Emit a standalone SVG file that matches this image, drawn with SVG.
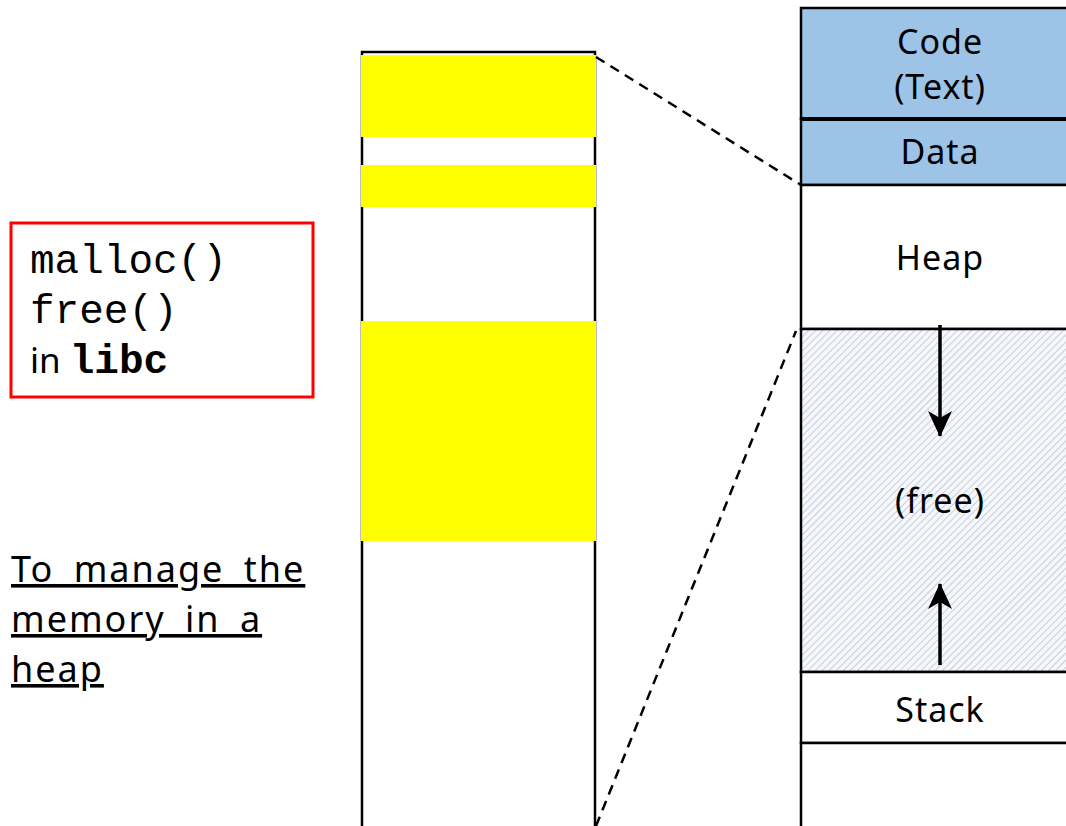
<svg xmlns="http://www.w3.org/2000/svg" width="1066" height="826" viewBox="0 0 1066 826">
  <style>
    .sans { font-family: "Noto Sans", "Open Sans", "DejaVu Sans", sans-serif; fill: #000; }
    .label { font-size: 34px; text-anchor: middle; letter-spacing: 1px; }
    .mono { font-family: "Liberation Mono", "Courier New", monospace; font-size: 41px; fill: #000; }
    .box { stroke: #000; stroke-width: 2.5; }
    .dash { stroke: #000; stroke-width: 2.5; stroke-dasharray: 10 7; fill: none; }
    .arrow { stroke: #000; stroke-width: 3.5; fill: none; }
  </style>
  <defs>
    <pattern id="hatch" width="5" height="5" patternUnits="userSpaceOnUse" patternTransform="rotate(45)">
      <rect width="5" height="5" fill="#f6f7fa"/>
      <line x1="0" y1="0" x2="0" y2="5" stroke="#c6cfdb" stroke-width="2"/>
    </pattern>
    <marker id="head" viewBox="0 0 26 26" refX="25" refY="13" markerWidth="26" markerHeight="26" markerUnits="userSpaceOnUse" orient="auto">
      <path d="M0,1 L26,13 L0,25 L7,13 Z" fill="#000"/>
    </marker>
  </defs>

  <!-- library note -->
  <g id="libc-note">
    <rect x="11" y="223" width="302" height="174" fill="#fff" stroke="#ff0000" stroke-width="3"/>
    <text class="mono" x="30" y="273">malloc()</text>
    <text class="mono" x="30" y="323">free()</text>
    <text x="30" y="373"><tspan class="sans" font-size="35px">in </tspan><tspan class="mono" font-weight="bold">libc</tspan></text>
  </g>

  <!-- purpose caption -->
  <g id="caption" class="sans" font-size="36px" text-decoration="underline" letter-spacing="2" word-spacing="8">
    <text x="11" y="582">To manage the</text>
    <text x="11" y="632">memory in a</text>
    <text x="11" y="682">heap</text>
  </g>

  <!-- heap detail column -->
  <g id="heap-detail">
    <rect x="362" y="52" width="233" height="800" fill="#fff" class="box"/>
    <rect x="361" y="55" width="235" height="82" fill="#ffff00"/>
    <rect x="361" y="165" width="235" height="42" fill="#ffff00"/>
    <rect x="361" y="321" width="235" height="220" fill="#ffff00"/>
  </g>

  <!-- process address space -->
  <g id="code">
    <rect x="801" y="8" width="280" height="111" fill="#9dc3e6" class="box"/>
    <text class="sans label" x="940" y="54">Code</text>
    <text class="sans label" x="940" y="99">(Text)</text>
  </g>
  <g id="data">
    <rect x="801" y="119" width="280" height="66" fill="#9dc3e6" class="box"/>
    <line x1="801" y1="119" x2="1066" y2="119" stroke="#000" stroke-width="4"/>
    <text class="sans label" x="940" y="164">Data</text>
  </g>
  <g id="heap">
    <rect x="801" y="185" width="280" height="144" fill="#fff" class="box"/>
    <text class="sans label" x="940" y="270">Heap</text>
  </g>
  <g id="free">
    <rect x="801" y="329" width="280" height="343" fill="url(#hatch)" class="box"/>
    <text class="sans label" x="940" y="513">(free)</text>
  </g>
  <g id="stack">
    <rect x="801" y="672" width="280" height="71" fill="#fff" class="box"/>
    <text class="sans label" x="940" y="722">Stack</text>
  </g>
  <g id="bottom">
    <rect x="801" y="743" width="280" height="100" fill="#fff" class="box"/>
  </g>

  <!-- connectors -->
  <g id="connectors">
    <line class="dash" x1="596" y1="57" x2="801" y2="185"/>
    <line class="dash" x1="596" y1="826" x2="796" y2="331"/>
    <line class="arrow" x1="940" y1="325" x2="940" y2="436" marker-end="url(#head)"/>
    <line class="arrow" x1="940" y1="665" x2="940" y2="584" marker-end="url(#head)"/>
  </g>
</svg>
